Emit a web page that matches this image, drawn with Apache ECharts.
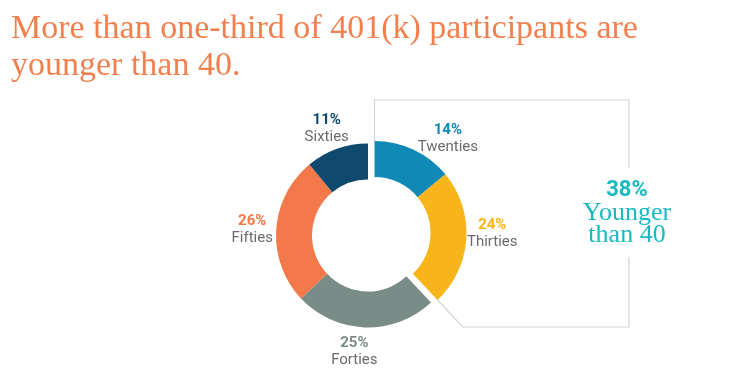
<!DOCTYPE html>
<html>
<head>
<meta charset="utf-8">
<script src="https://cdn.jsdelivr.net/npm/echarts@6/dist/echarts.min.js"></script>
<style>html,body{margin:0;padding:0;background:#fff}#c{width:733px;height:388px}</style>
</head>
<body>
<div id="c"></div>
<script>
// ---- data ----
const titleText = 'More than one-third of 401(k) participants are\nyounger than 40.';
const categories = ['Twenties', 'Thirties', 'Forties', 'Fifties', 'Sixties'];
const shares = [14, 24, 25, 26, 11];
const youngGroup = ['Twenties', 'Thirties'];
const calloutValue = '38%';
const calloutLines = ['Younger', 'than 40'];

// ---- styles / layout ----
const colors = ['#1089b6', '#f8b519', '#7a8c87', '#f3784a', '#0f4a6e'];
const titleColor = '#f2804f';
const calloutColor = '#1ab9c0';
const nameColor = '#6b6b6b';
const lineColor = '#d4d4d4';
const CX = 368, CY = 235.5, R_IN = 56, R_OUT = 92, EXPLODE = 7;
const LABEL_R = 116;
const labelNudge = {Twenties: [24, 11], Thirties: [2, -6], Forties: [-10, 0], Fifties: [0, 2], Sixties: [-2, 2]};
const BRACKET = {top: 100, right: 629, bottom: 327, gapTop: 168, gapBottom: 257};

const total = shares.reduce((a, b) => a + b, 0);
const youngSum = categories.reduce((s, c, i) => s + (youngGroup.includes(c) ? shares[i] : 0), 0);
const dir = deg => [Math.sin(deg * Math.PI / 180), -Math.cos(deg * Math.PI / 180)];
const groupMid = 360 * youngSum / 2 / total;
const gd = dir(groupMid);
const CX2 = CX + gd[0] * EXPLODE, CY2 = CY + gd[1] * EXPLODE;

// mid-angles of each slice
const midAngle = {};
let acc = 0;
categories.forEach((c, i) => { midAngle[c] = 360 * (acc + shares[i] / 2) / total; acc += shares[i]; });

const rich = {};
categories.forEach((c, i) => {
  rich['p' + i] = {fontFamily: 'Roboto', fontWeight: 'bold', fontSize: 15, color: colors[i], lineHeight: 17, align: 'center'};
});
rich.n = {fontFamily: 'Roboto', fontSize: 15, color: nameColor, lineHeight: 17, align: 'center'};

function itemFor(c, i) {
  return {name: c, value: shares[i], itemStyle: {color: colors[i]}};
}
const blank = v => ({name: '__blank', value: v, itemStyle: {color: 'rgba(0,0,0,0)'}, label: {show: false}, emphasis: {disabled: true}});

const youngData = [];
const oldData = [];
categories.forEach((c, i) => { if (youngGroup.includes(c)) youngData.push(itemFor(c, i)); });
youngData.push(blank(total - youngSum));
oldData.push(blank(youngSum));
categories.forEach((c, i) => { if (!youngGroup.includes(c)) oldData.push(itemFor(c, i)); });

function makeSeries(data, cx, cy) {
  return {
    type: 'pie',
    center: [cx, cy],
    radius: [R_IN, R_OUT],
    startAngle: 90,
    clockwise: true,
    avoidLabelOverlap: false,
    silent: true,
    emphasis: {disabled: true},
    data: data,
    label: {
      show: true,
      position: 'outside',
      formatter: p => '{p' + categories.indexOf(p.name) + '|' + p.value + '%}\n{n|' + p.name + '}',
      rich: rich
    },
    labelLine: {show: false},
    labelLayout: function (params) {
      const name = data[params.dataIndex].name;
      if (name === '__blank') return {};
      const d = dir(midAngle[name]);
      const nd = labelNudge[name] || [0, 0];
      return {
        x: cx + d[0] * LABEL_R + nd[0],
        y: cy + d[1] * LABEL_R + nd[1],
        align: 'center',
        verticalAlign: 'middle'
      };
    }
  };
}

// bracket geometry derived from the exploded group
const endDeg = 360 * youngSum / total;
const ed = dir(endDeg);
const edgeX = CX2 + ed[0] * R_OUT, edgeY = CY2 + ed[1] * R_OUT;
const tB = (BRACKET.bottom - edgeY) / ed[1];
const diagX = edgeX + ed[0] * tB;

const chart = echarts.init(document.getElementById('c'), null, {renderer: 'canvas'});
chart.setOption({
  animation: false,
  title: {
    text: titleText,
    left: 6,
    top: 6,
    textStyle: {fontFamily: 'Liberation Serif', fontWeight: 'normal', fontSize: 34, lineHeight: 37, color: titleColor}
  },
  series: [makeSeries(youngData, CX2, CY2), makeSeries(oldData, CX, CY)],
  graphic: [
    {type: 'polyline', silent: true, shape: {points: [[CX2, CY2 - R_OUT], [CX2, BRACKET.top], [BRACKET.right, BRACKET.top], [BRACKET.right, BRACKET.gapTop]]}, style: {stroke: lineColor, lineWidth: 1.2, fill: null}},
    {type: 'polyline', silent: true, shape: {points: [[BRACKET.right, BRACKET.gapBottom], [BRACKET.right, BRACKET.bottom], [diagX, BRACKET.bottom], [edgeX, edgeY]]}, style: {stroke: lineColor, lineWidth: 1.2, fill: null}},
    {type: 'text', silent: true, x: 627, y: 212, style: {
      text: '{a|' + calloutValue + '}\n' + calloutLines.map(s => '{b|' + s + '}').join('\n'),
      align: 'center', verticalAlign: 'middle', fill: calloutColor,
      rich: {
        a: {fontFamily: 'Roboto', fontWeight: 'bold', fontSize: 22, lineHeight: 24, fill: calloutColor, align: 'center'},
        b: {fontFamily: 'Liberation Serif', fontSize: 26, lineHeight: 22, fill: calloutColor, align: 'center'}
      }
    }}
  ]
});
</script>
</body>
</html>
